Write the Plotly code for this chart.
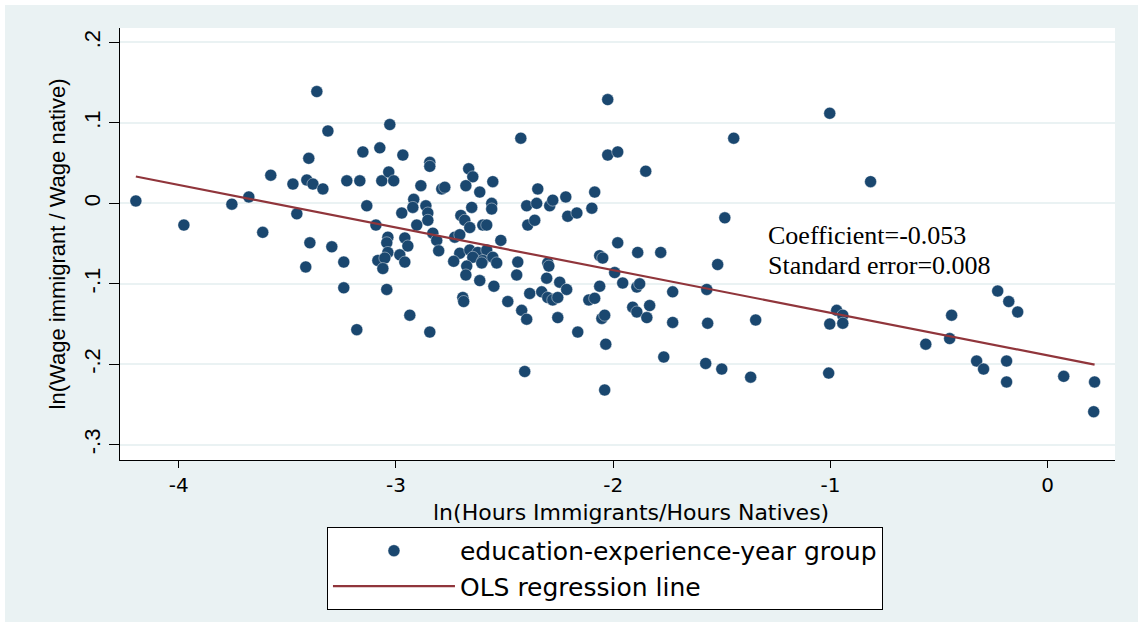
import plotly.graph_objects as go

# ln(hours immigrants / hours natives) for each education-experience-year cell
ln_hours_ratio = [
    -4.197, -3.976, -3.755, -3.677, -3.613, -3.576, -3.474, -3.456, -3.401, -3.410,
    -3.382, -3.336, -3.396, -3.415, -3.364, -3.313, -3.152, -3.074, -3.028, -2.968,
    -2.844, -2.844, -2.665, -2.646, -3.226, -3.166, -3.065, -3.033, -3.010, -2.885,
    -2.789, -2.775, -2.678, -2.614, -2.554, -3.134, -2.918, -2.922, -2.862, -2.853,
    -2.973, -2.853, -2.904, -3.092, -2.651, -2.559, -2.559, -2.701, -2.683, -2.660,
    -2.600, -2.582, -2.830, -2.812, -2.729, -2.706, -3.037, -2.959, -3.042, -2.945,
    -3.295, -3.037, -2.803, -2.706, -2.660, -2.623, -2.582, -2.646, -2.600, -2.554,
    -2.982, -3.083, -3.051, -2.959, -2.734, -3.240, -3.060, -2.674, -2.678, -2.605,
    -2.536, -2.614, -2.549, -3.240, -3.042, -2.692, -2.688, -2.936, -3.180, -2.844,
    -2.517,
    -2.025, -2.425, -2.025, -1.979, -1.850, -2.347, -2.398, -2.352, -2.292, -2.278,
    -2.218, -2.085, -2.098, -2.209, -2.167, -2.393, -2.361, -1.979, -1.887, -1.781,
    -2.062, -2.048, -2.439, -2.301, -2.296, -1.993, -2.444, -2.306, -2.246, -2.214,
    -2.384, -2.329, -2.301, -2.278, -2.255, -2.062, -1.956, -1.891, -1.878, -2.112,
    -2.085, -2.485, -2.421, -2.398, -2.255, -2.052, -2.039, -1.910, -1.891, -1.832,
    -1.845, -2.163, -2.034, -1.767, -1.726, -1.726, -2.407, -2.039,
    -1.003, -1.445, -0.815, -1.486, -1.519, -1.569, -0.971, -0.943, -1.003, -0.943,
    -1.565, -1.344, -1.574, -1.500, -1.367, -1.008, -0.230, -0.179, -0.138, -0.442,
    -0.561, -0.451, -0.327, -0.295, -0.189, -0.189, 0.074, 0.216, 0.212,
]

# ln(wage immigrant / wage native) for the same cells
ln_wage_ratio = [
    0.003, -0.027, -0.001, 0.008, -0.036, 0.035, 0.024, -0.013, 0.056, 0.029,
    0.024, 0.018, -0.049, -0.079, 0.139, 0.090, 0.064, 0.069, 0.098, 0.060,
    0.051, 0.046, 0.043, 0.033, 0.028, 0.028, 0.028, 0.039, 0.028, 0.022,
    0.018, 0.020, 0.022, 0.014, 0.027, -0.003, 0.005, -0.005, -0.003, -0.012,
    -0.012, -0.021, -0.027, -0.027, -0.005, 0.000, -0.007, -0.015, -0.021, -0.030,
    -0.027, -0.027, -0.037, -0.046, -0.042, -0.039, -0.042, -0.043, -0.049, -0.053,
    -0.054, -0.061, -0.059, -0.062, -0.058, -0.061, -0.058, -0.067, -0.071, -0.067,
    -0.064, -0.071, -0.068, -0.073, -0.072, -0.073, -0.081, -0.078, -0.089, -0.074,
    -0.074, -0.096, -0.103, -0.105, -0.107, -0.117, -0.122, -0.139, -0.157, -0.160,
    -0.046,
    0.129, 0.081, 0.060, 0.064, 0.040, 0.018, -0.003, 0.000, -0.003, 0.004,
    0.008, 0.014, -0.006, -0.016, -0.012, -0.027, -0.021, -0.049, -0.061, -0.061,
    -0.065, -0.068, -0.073, -0.074, -0.078, -0.086, -0.089, -0.093, -0.098, -0.107,
    -0.112, -0.110, -0.117, -0.120, -0.117, -0.103, -0.099, -0.104, -0.100, -0.120,
    -0.118, -0.122, -0.133, -0.144, -0.142, -0.143, -0.139, -0.129, -0.135, -0.127,
    -0.142, -0.160, -0.175, -0.191, -0.110, -0.148, -0.209, -0.232,
    0.112, 0.081, 0.027, -0.018, -0.076, -0.107, -0.133, -0.139, -0.150, -0.149,
    -0.149, -0.145, -0.199, -0.206, -0.216, -0.211, -0.109, -0.122, -0.135, -0.139,
    -0.175, -0.168, -0.196, -0.206, -0.196, -0.222, -0.215, -0.222, -0.259,
]

# OLS fit reported on the chart
ols_slope = -0.053
ols_se = 0.008
ols_intercept = -0.189

x_tick_vals = [-4, -3, -2, -1, 0]
x_tick_text = ["-4", "-3", "-2", "-1", "0"]
y_tick_vals = [-0.3, -0.2, -0.1, 0.0, 0.1, 0.2]
y_tick_text = ["-.3", "-.2", "-.1", "0", ".1", ".2"]

NAVY = "#1A476F"
MAROON = "#90353B"
REGION_BG = "#EAF2F3"
SANS = "Liberation Sans, Arial, sans-serif"
WIDE_SANS = "DejaVu Sans, sans-serif"
SERIF = "Liberation Serif, Times New Roman, serif"

fig = go.Figure()

fig.add_trace(go.Scatter(
    x=ln_hours_ratio,
    y=ln_wage_ratio,
    mode="markers",
    name="education-experience-year group",
    marker=dict(color=NAVY, size=12,
                line=dict(width=0.6, color="rgba(255,255,255,0.7)")),
))

x_fit = [min(ln_hours_ratio), max(ln_hours_ratio)]
y_fit = [ols_intercept + ols_slope * v for v in x_fit]
fig.add_trace(go.Scatter(
    x=x_fit,
    y=y_fit,
    mode="lines",
    name="OLS regression line",
    line=dict(color=MAROON, width=2.2),
))

fig.add_annotation(
    x=-1.298, y=-0.040, xref="x", yref="y",
    text=f"Coefficient={ols_slope:.3f}",
    showarrow=False, xanchor="left", yanchor="middle",
    font=dict(family=SERIF, size=26, color="black"),
)
fig.add_annotation(
    x=-1.298, y=-0.077, xref="x", yref="y",
    text=f"Standard error={ols_se:.3f}",
    showarrow=False, xanchor="left", yanchor="middle",
    font=dict(family=SERIF, size=26, color="black"),
)

# x-axis title, set just under the tick labels
fig.add_annotation(
    x=0.5136, y=-0.122, xref="paper", yref="paper",
    text="ln(Hours Immigrants/Hours Natives)",
    showarrow=False, xanchor="center", yanchor="middle",
    font=dict(family=WIDE_SANS, size=22, color="black"),
)

# thin white frame along the top and left edges of the graph region
fig.add_shape(type="rect", xref="paper", yref="paper",
              x0=-0.1206, x1=1.0231, y0=1.0532, y1=1.0648,
              fillcolor="white", line=dict(width=0), layer="above")
fig.add_shape(type="rect", xref="paper", yref="paper",
              x0=-0.1206, x1=-0.1156, y0=-0.375, y1=1.0648,
              fillcolor="white", line=dict(width=0), layer="above")

fig.update_layout(
    width=1138,
    height=622,
    margin=dict(l=120, r=23, t=28, b=162, pad=0),
    paper_bgcolor=REGION_BG,
    plot_bgcolor="white",
    showlegend=True,
    legend=dict(
        x=0.208, y=-0.155, xanchor="left", yanchor="top",
        bgcolor="white", bordercolor="black", borderwidth=1,
        font=dict(family=WIDE_SANS, size=25, color="black"),
        itemwidth=122,
        tracegroupgap=0,
    ),
    xaxis=dict(
        range=[-4.27, 0.31],
        tickvals=x_tick_vals, ticktext=x_tick_text,
        ticks="outside", ticklen=7, tickwidth=1, tickcolor="black",
        showline=True, linecolor="black", linewidth=1,
        showgrid=False, zeroline=False,
        tickfont=dict(family=WIDE_SANS, size=20, color="black"),
    ),
    yaxis=dict(
        range=[-0.319, 0.218],
        tickvals=y_tick_vals, ticktext=y_tick_text,
        tickangle=-90,
        ticks="outside", ticklen=10, tickwidth=1, tickcolor="black",
        showline=True, linecolor="black", linewidth=1,
        showgrid=True, gridcolor=REGION_BG, gridwidth=1.5,
        zeroline=False,
        tickfont=dict(family=SANS, size=22, color="black"),
        title=dict(text="ln(Wage immigrant / Wage native)",
                   font=dict(family=SANS, size=22, color="black"),
                   standoff=8),
    ),
)

fig.write_html("out.html")
